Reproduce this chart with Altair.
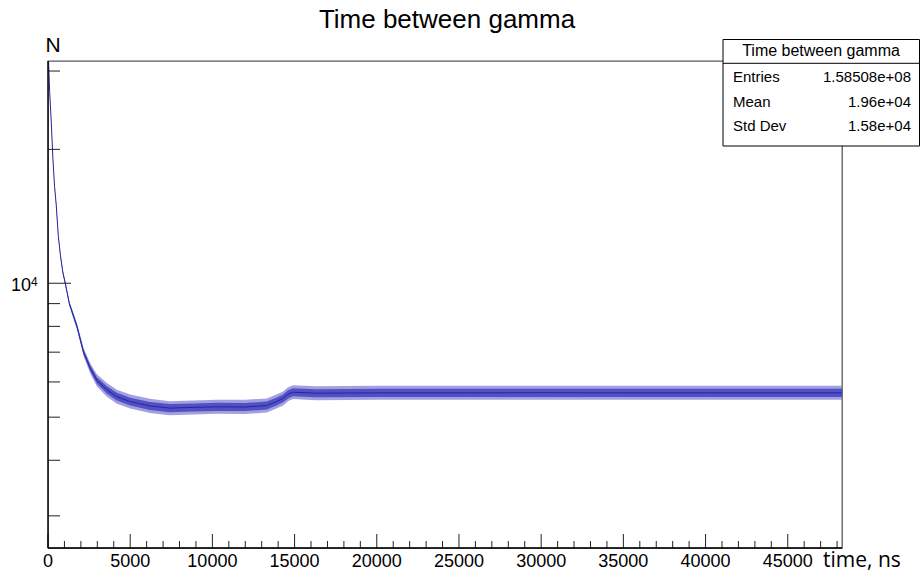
import altair as alt
import pandas as pd

# ---- data ----
time_ns = [0, 100, 200, 300, 400, 500, 625, 750, 900, 1050, 1300, 1760, 2165, 2570,
           2975, 3585, 4190, 5000, 6200, 7400, 8850, 10270, 12000, 13300, 13900,
           14300, 14600, 14900, 16300, 20000, 25000, 30000, 35000, 40000, 45000, 48300]
n_mid = [34000, 27000, 23000, 19000, 16500, 15000, 12800, 11600, 10600, 10000, 9000,
         8000, 7000, 6440, 6050, 5760, 5560, 5420, 5300, 5240, 5260, 5275, 5270, 5310,
         5420, 5510, 5630, 5690, 5660, 5670, 5670, 5675, 5670, 5670, 5670, 5670]
# outer envelope of the noisy bins (spikes)
n_lo_out = [33900, 26920, 22930, 18940, 16450, 14910, 12720, 11530, 10500, 9900, 8890,
            7860, 6850, 6270, 5860, 5560, 5360, 5230, 5110, 5050, 5070, 5090, 5080, 5120,
            5230, 5310, 5430, 5490, 5460, 5470, 5470, 5470, 5470, 5470, 5470, 5470]
n_hi_out = [34100, 27080, 23070, 19060, 16550, 15090, 12880, 11670, 10700, 10100, 9110,
            8140, 7150, 6610, 6240, 5970, 5760, 5620, 5500, 5430, 5450, 5470, 5470, 5510,
            5620, 5710, 5840, 5900, 5870, 5880, 5880, 5880, 5880, 5880, 5880, 5880]
# inner (dense) part of the band
n_lo_in = [33950, 26960, 22960, 18970, 16470, 14950, 12760, 11560, 10540, 9950, 8940,
           7920, 6920, 6350, 5950, 5650, 5450, 5310, 5190, 5130, 5150, 5165, 5160, 5200,
           5310, 5400, 5510, 5570, 5540, 5550, 5550, 5550, 5550, 5550, 5550, 5550]
n_hi_in = [34050, 27040, 23040, 19030, 16530, 15050, 12840, 11640, 10660, 10050, 9060,
           8080, 7080, 6530, 6150, 5870, 5670, 5530, 5410, 5350, 5370, 5385, 5380, 5420,
           5530, 5620, 5750, 5810, 5780, 5790, 5790, 5790, 5790, 5790, 5790, 5790]

x_major = [0, 5000, 10000, 15000, 20000, 25000, 30000, 35000, 40000, 45000]
x_minor = [v for v in range(1000, 48001, 1000) if v % 5000 != 0]
y_major = [10000]
y_minor = [3000, 4000, 5000, 6000, 7000, 8000, 9000, 20000, 30000]

x_domain = [0, 48300]
y_domain = [2540, 31600]

stats_title = "Time between gamma"
stats_labels = ["Entries", "Mean", "Std Dev"]
stats_values = ["1.58508e+08", "1.96e+04", "1.58e+04"]

W, H = 794, 487
FONT = "Liberation Sans"

df = pd.DataFrame({"t": time_ns, "mid": n_mid, "lo_o": n_lo_out, "hi_o": n_hi_out,
                   "lo_i": n_lo_in, "hi_i": n_hi_in})

xs = alt.Scale(domain=x_domain, nice=False, zero=False)
ys = alt.Scale(type="log", domain=y_domain, nice=False)

base = alt.Chart(df)
band_out = base.mark_area(color="#8282d8", opacity=0.75, clip=True).encode(
    x=alt.X("t:Q", scale=xs, axis=None),
    y=alt.Y("lo_o:Q", scale=ys, axis=None),
    y2="hi_o:Q")
band_in = base.mark_area(color="#4848c2", opacity=0.9, clip=True).encode(
    x=alt.X("t:Q", scale=xs, axis=None),
    y=alt.Y("lo_i:Q", scale=ys, axis=None),
    y2="hi_i:Q")
line = base.mark_line(color="#26269c", strokeWidth=1, clip=True).encode(
    x=alt.X("t:Q", scale=xs, axis=None),
    y=alt.Y("mid:Q", scale=ys, axis=None))

def xticks(vals, length):
    return alt.Chart(pd.DataFrame({"v": vals})).mark_rule(color="#222", strokeWidth=1).encode(
        x=alt.X("v:Q", scale=xs, axis=None),
        y=alt.value(H), y2=alt.value(H - length))

def yticks(vals, length):
    return alt.Chart(pd.DataFrame({"v": vals})).mark_rule(color="#222", strokeWidth=1).encode(
        y=alt.Y("v:Q", scale=ys, axis=None),
        x=alt.value(0), x2=alt.value(length))

def label(txt, x, y, size, font=FONT, align="left", baseline="alphabetic"):
    return alt.Chart(pd.DataFrame({"s": [txt]})).mark_text(
        font=font, fontSize=size, align=align, baseline=baseline, color="black").encode(
        text="s:N", x=alt.value(x), y=alt.value(y))

# x tick labels through the x scale
xlab = alt.Chart(pd.DataFrame({"v": x_major, "s": [str(v) for v in x_major]})).mark_text(
    font=FONT, fontSize=18, align="center", baseline="alphabetic", color="black").encode(
    x=alt.X("v:Q", scale=xs, axis=None), y=alt.value(H + 19), text="s:N")

# 10^4 label tied to the y scale
ten = alt.Chart(pd.DataFrame({"v": [10000], "s": ["10"]})).mark_text(
    font=FONT, fontSize=18, align="right", baseline="middle", dy=3, color="black").encode(
    y=alt.Y("v:Q", scale=ys, axis=None), x=alt.value(-17), text="s:N")
four = alt.Chart(pd.DataFrame({"v": [10000], "s": ["4"]})).mark_text(
    font=FONT, fontSize=12, align="left", baseline="middle", dy=-1, color="black").encode(
    y=alt.Y("v:Q", scale=ys, axis=None), x=alt.value(-17), text="s:N")

one = pd.DataFrame({"a": [0]})
x_line = alt.Chart(one).mark_rule(color="black", strokeWidth=1.3).encode(
    x=alt.value(0), x2=alt.value(W), y=alt.value(H))
y_line = alt.Chart(one).mark_rule(color="black", strokeWidth=1.3).encode(
    x=alt.value(0), y=alt.value(0), y2=alt.value(H))

box = alt.Chart(one).mark_rect(fill="white", stroke="black", strokeWidth=1).encode(
    x=alt.value(675), x2=alt.value(871.5), y=alt.value(-21.5), y2=alt.value(85))
sep = alt.Chart(one).mark_rule(color="black", strokeWidth=1).encode(
    x=alt.value(675), x2=alt.value(871.5), y=alt.value(2.3))

layers = [band_out, band_in, line,
          xticks(x_major, 14), xticks(x_minor, 7),
          yticks(y_major, 23), yticks(y_minor, 12),
          x_line, y_line, xlab, ten, four,
          label("Time between gamma", 399, -33, 26, align="center"),
          label("N", -2.5, -9.5, 21),
          label("time, ns", 775, 506, 21, font="Open Sans"),
          box, sep,
          label(stats_title, 773, -5, 16, align="center")]
rows_y = [21, 45.7, 70.4]
for lab, val, yy in zip(stats_labels, stats_values, rows_y):
    layers.append(label(lab, 685, yy, 15))
    layers.append(label(val, 863, yy, 15, align="right"))

chart = alt.layer(*layers).properties(
    width=W, height=H, autosize="none",
    padding={"left": 48, "top": 61, "right": 79, "bottom": 32},
    background="white",
).configure_view(stroke="#5a5a5a", strokeWidth=1.3)

chart.save("out.html", embed_options={"renderer": "svg", "actions": False})
